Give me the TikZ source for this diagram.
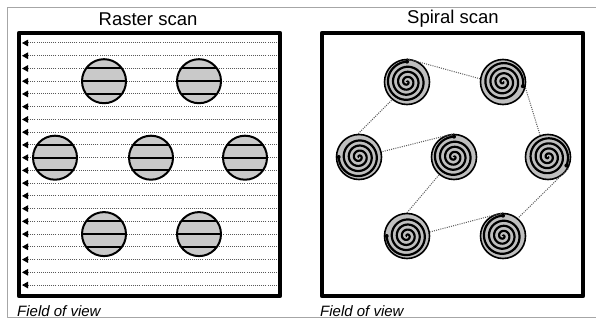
\documentclass[tikz,border=0pt]{standalone}
\usepackage{fontspec}
\setmainfont{Liberation Sans}
\usetikzlibrary{arrows.meta}
\tikzset{
  fov/.style={draw=black,line width=4.5pt},
  title/.style={font=\fontsize{18.5}{20}\selectfont},
  fovlabel/.style={font=\fontsize{15}{17}\selectfont\itshape,anchor=west,inner sep=0pt},
  scanline/.style={gray!70!black,line width=1pt,dash pattern=on 1pt off 1.1pt,
    -{Triangle[length=6pt,width=6.5pt,black]}},
  rcirc/.style={circle,draw=black,line width=2pt,fill=gray!42,
    minimum size=44pt,inner sep=0pt},
  scirc/.style={circle,draw=black,line width=1.6pt,fill=gray!50,
    minimum size=45pt,inner sep=0pt},
  spiral/.style={black,line width=2.2pt},
  link/.style={gray!70!black,line width=1pt,dash pattern=on 1pt off 1.2pt},
}
\begin{document}
\begin{tikzpicture}[x=1pt,y=-1pt,line cap=butt,line join=round]
  \useasboundingbox (0,0) rectangle (596,326);
  % thin outer frame, open on the right
  \draw[gray!70,line width=0.8pt] (596,7) -- (7,7) -- (7,317) -- (596,317);
  \node[title] (rtitle) at (148,19) {Raster scan};
  \node[title] (stitle) at (453,19) {Spiral scan};

  % (left) raster scan: twenty lines, each run right to left
  \foreach \i in {0,...,19} {
    \draw[scanline] (279,{43+\i*12.74}) -- (22,{43+\i*12.74});
  }
  \foreach \cx/\cy/\n in {104/81.2/ra1,199/81.2/ra2,55/157.7/ra3,
      151/157.7/ra4,245/157.7/ra5,104/234.1/ra6,199/234.1/ra7} {
    \node[rcirc,path picture={
      \foreach \dy in {-12.74,0,12.74}
        \draw[line width=2pt] ([yshift=\dy pt]path picture bounding box.west)
          -- ([yshift=\dy pt]path picture bounding box.east);
    }] (\n) at (\cx,\cy) {};
  }
  \draw[fov] (19,33) rectangle (280,296);
  \node[fovlabel] (rfov) at (17,311) {Field of view};

  % (right) spiral scan: one spiral per object, the dot marks its outer end
  \foreach \cx/\cy/\a/\n in {407/82/-90/sp1,503/82/12/sp2,359/157/180/sp3,
      454/157/-90/sp4,548/157/25/sp5,407/236/180/sp6,503/236/-90/sp7} {
    \node[scirc] (\n) at (\cx,\cy) {};
    \draw[spiral,shift={(\cx,\cy)}]
      plot[domain=0:1440,samples=220,smooth] ({\x+\a}:{0.0141*\x});
    \fill[shift={(\cx,\cy)}] (\a:20.3) circle (2);
  }
  % route from object to object
  \draw[link] (sp1.90) -- (sp2.172);
  \draw[link] (sp2.-15) -- (sp5.110);
  \draw[link] (sp5.-30) -- (sp7.50);
  \draw[link] (sp7.90) -- (sp6.10);
  \draw[link] (sp6.90) -- (sp4.230);
  \draw[link] (sp4.90) -- (sp3.13);
  \draw[link] (sp3.92) -- (sp1.230);
  \draw[fov] (322,33) rectangle (583,296);
  \node[fovlabel] (sfov) at (320,311) {Field of view};
\end{tikzpicture}
\end{document}
